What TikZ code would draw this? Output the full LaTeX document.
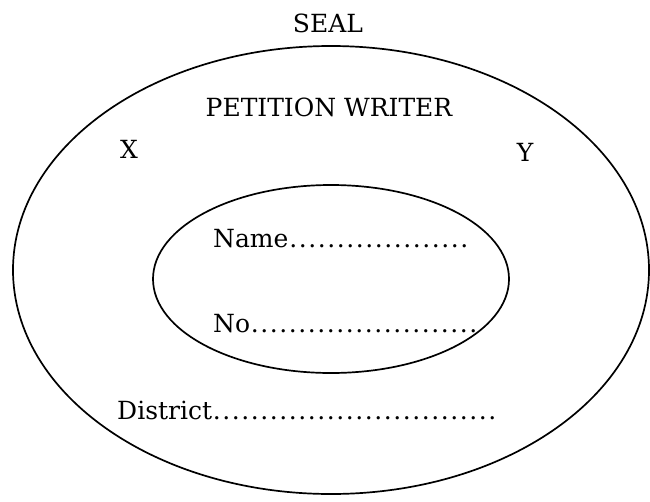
\documentclass[tikz,border=0pt]{standalone}
\usepackage{fontspec}
\setmainfont{DejaVu Serif}
\usepackage{tikz}

\newcommand{\dotrow}[1]{\foreach \d in {1,...,#1}{\makebox[9.5pt]{.}}}

\begin{document}
\begin{tikzpicture}[x=1pt,y=-1pt]
                \useasboundingbox (0,0) rectangle (650,501);
                \begin{scope}[line width=1.7pt]
                        \draw (331,270) ellipse [x radius=318, y radius=224];
                        \draw (331,279) ellipse [x radius=178, y radius=94];
                \end{scope}
                \begin{scope}[every node/.style={inner sep=0pt, font=\fontsize{25}{30}\selectfont}]
                        \node (Seal) at (328,23) {SEAL};
                        \node (Writer) at (329,107) {PETITION WRITER};
                        \node (X) at (129,149) {X};
                        \node (Y) at (525,152) {Y};
                        \node [anchor=west] (Name) at (213,239) {Name\dotrow{19}};
                        \node [anchor=west] (No) at (213,324) {No\dotrow{24}};
                        \node [anchor=west] (District) at (117,410) {District\dotrow{30}};
                \end{scope}
        \end{tikzpicture}
\end{document}
